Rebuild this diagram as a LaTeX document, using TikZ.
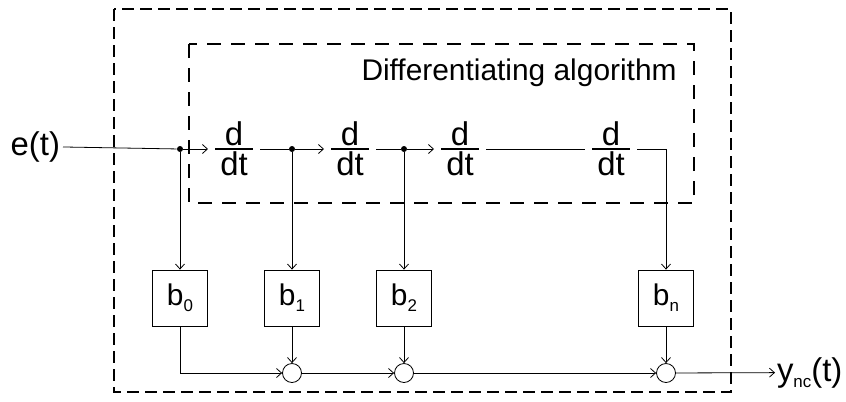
\documentclass[tikz,border=0pt]{standalone}
\usepackage{fontspec}
\setmainfont{Liberation Sans}
\usetikzlibrary{arrows.meta}
\newcommand{\sub}[1]{\raisebox{-6bp}{\fontsize{17}{20}\selectfont #1}}

\begin{document}
\begin{tikzpicture}
    [x=1bp, y=-1bp,
    font=\fontsize{30}{36}\selectfont,
    line width=0.8bp,
    big/.style={font=\fontsize{33}{38}\selectfont},
    sig/.style={-{Straight Barb[length=5bp,width=9bp]}},
    block/.style={draw, inner sep=0pt, minimum width=55bp, minimum height=56bp},
    sum/.style={draw, circle, inner sep=0pt, minimum size=19bp},
    vertex/.style={circle, fill=black, inner sep=0pt, minimum size=6bp},
    ddt/.style={inner sep=0pt, outer xsep=7bp, minimum width=38bp, minimum height=2bp,
        path picture={\draw[line width=1.2bp] (path picture bounding box.west) -- (path picture bounding box.east);},
        label={[big, inner sep=1bp]above:d}, label={[big, inner sep=1bp]below:dt}}]
    \useasboundingbox (0,0) rectangle (846,401);

    %% frames
    \draw[dash pattern=on 12bp off 6bp, line width=1.3bp] (114,9) rectangle (731,392);
    \draw[dash pattern=on 14bp off 10bp, line width=2.8bp] (189,44) rectangle (694,203);
    \node[anchor=base east, inner sep=0pt] (alg) at (677,80) {Differentiating algorithm};

    %% chain of derivatives
    \node[big, anchor=base east, inner sep=0pt, outer sep=3bp] (e) at (63,155) {e(t)};
    \node[vertex] (j0) at (180,149) {};
    \node[ddt] (d1) at (234,149) {};
    \node[vertex] (j1) at (292,149) {};
    \node[ddt] (d2) at (350,149) {};
    \node[vertex] (j2) at (404,149) {};
    \node[ddt] (d3) at (460,149) {};
    \node[ddt] (d4) at (611,149) {};

    %% coefficients and sums
    \node[block] (b0) at (180,298) {b\sub{0}};
    \node[block] (b1) at (292,298) {b\sub{1}};
    \node[block] (b2) at (404,298) {b\sub{2}};
    \node[block] (bn) at (666,298) {b\sub{n}};
    \node[sum] (c1) at (292,373) {};
    \node[sum] (c2) at (404,373) {};
    \node[sum] (cn) at (666,373) {};
    \node[big, anchor=base west, inner sep=0pt, outer sep=2bp] (y) at (775,381) {y\sub{nc}(t)};

    \draw (e) -- (j0);
    \draw[sig] (j0) -- (d1);
    \draw (d1) -- (j1);
    \draw[sig] (j1) -- (d2);
    \draw (d2) -- (j2);
    \draw[sig] (j2) -- (d3);
    \draw (d3) -- (d4);
    \draw[sig] (d4) -| (bn);

    \draw[sig] (j0) -- (b0);
    \draw[sig] (j1) -- (b1);
    \draw[sig] (j2) -- (b2);
    \draw[sig] (b0) |- (c1);
    \draw[sig] (b1) -- (c1);
    \draw[sig] (b2) -- (c2);
    \draw[sig] (bn) -- (cn);
    \draw[sig] (c1) -- (c2);
    \draw[sig] (c2) -- (cn);
    \draw[sig] (cn) -- (y);
\end{tikzpicture}
\end{document}
